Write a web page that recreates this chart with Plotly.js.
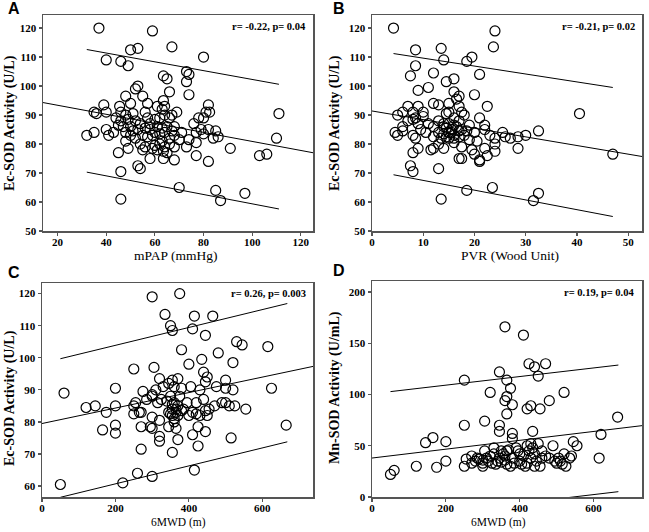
<!DOCTYPE html>
<html>
<head>
<meta charset="utf-8">
<script src="https://cdn.plot.ly/plotly-3.0.1.min.js"></script>
<style>
  body { margin: 0; background: #fff; }
  #chart { width: 649px; height: 532px; }
</style>
</head>
<body>
<div id="chart"></div>
<script>
// Panel A: mPAP vs Ec-SOD
var aX = [37,59,50,53,67,40,46,49,80,73,74,73,63.5,65,66,74,52,53,48,55,50,57,63.5,64,39,45.5,61,
  35,36,40,46,51,56,63,67,69,81,82,82.5,
  44,46,48,49,52,57,58,60,62,64,66,76,78,80,
  45,47,50,53,54,56,58,60,61,63,65,67,68,71,79,82,85,
  32,35,40,41,43,48,50,51,55,57,59,62,63,64,66,68,70,74,77,80,84,86,
  48,52,54,56,60,62,64,66,68,73,77,
  55,59,61,63.5,65,49,45,
  58,63.5,68,77,82,
  91,103,106,110,111,
  53,54,46,70,46,85,87,97];
var aY = [120,119,112.5,113,113.5,109,108.5,107,110,105,104,101.5,103.5,102.5,98,97,99,100,96.5,96.5,94,94,95,93,93.5,93,93,
  91,90.5,91,91,90.5,91,92,90,91,91,93.5,91,
  89,88,90,88.5,88,89,87,88.5,89,90,89,87,89,89,
  86.5,86,86,85,87,85.5,85,84,86,85.5,86,84.5,86,84,85,85,84.5,
  83,84,85,83,84,84,83,84.5,83,82.5,83,83.5,81,84,82,83,81.5,81.5,84,83.5,82,82.5,
  81,82,80,79,79.5,80,79,80,79,79,80.5,
  78,78.5,78,77.5,77,78.5,77,
  75,75,74.5,76,74,
  78.5,76,76.5,82,90.5,
  72.5,71.5,70.5,65,61,64,60.5,63];

// Panel B: PVR vs Ec-SOD
var bX = [4.2,24,8.5,13.5,23.7,14,18.5,19.5,8.5,7.5,12,14.5,16,21,11,9,16,17,16.5,20,
  5,6,7,8,9,10,12,13,15,17,17.5,22.5,
  4.5,5,6,6,7,8,8.5,9,10,11,12,13,14,14.5,15,16,17,18,19,21,22,
  8,8.5,9.5,10.5,12,13,14,14.5,15,15.5,16,16.5,17,17.5,18,18.5,20,20.5,22,23,24,25.5,26,27,28.5,30,32.5,
  9,11.5,12,13,14,16,17.5,19,19.5,20,21,21,22,22.5,24,24,28.5,17,17.5,
  8,7.5,8,13,40.5,47,13.5,18.5,23.5,31.5,32.5,
  14,15,15.5,16,14.5,15,16,17,13.5];
var bY = [120,119,112.5,113,113.5,109,108.5,110,107,103.5,104.5,101.5,102.5,104,99.5,98.5,98,96.5,95.5,97,
  90,91,93,91,93,91,94,93.5,94,93,91,93,
  84,83,86,84.5,88,88.5,89,87,89.5,87,86,88,87,90.5,91,89,88,90,86.5,89,86.5,
  83,82,85,84,82.5,84,83.5,85.5,82,84,83,86,84.5,85,83,84.5,84,81,85,83,82,84,82.5,82,82.5,83,84.5,
  78.5,78,78.5,80,78.5,80.5,79,81.5,78,76.5,74,74.5,78.5,76,77.5,80,78.5,75,75,
  77,72.5,70.5,71.5,90.5,76.5,61,64,65,60.5,63,
  86,87,85,86.5,82.5,84,82,82.5,82];

// Panel C: 6MWD vs Ec-SOD
var cX = [300,375,335,415,465,350,355,410,445,380,435,480,530,545,615,520,400,250,305,
  320,355,370,440,450,500,445,200,275,300,310,330,345,360,380,405,430,475,500,520,625,60,
  120,145,175,200,250,255,265,285,300,315,325,340,350,355,365,375,385,395,410,420,440,455,470,490,500,510,525,555,
  250,270,300,320,345,355,360,370,380,400,420,430,445,450,
  165,200,200,270,295,300,345,365,410,425,445,320,320,370,515,270,355,425,260,300,220,50,415,665,
  355,360,365,350,370,360];
var cY = [119,120,113.5,113,113,110,108.5,109,107,102.5,99.5,101.5,105,104,103.5,98.5,98,96.5,97,
  93.5,93,93.5,95.5,94,93,92.5,90.5,89.5,88.5,90,91,92,91,90.5,91,90,91,90.5,90,90.5,89,
  84.5,85,83,85,85,86,83,87,88,86,87,86.5,88,85.5,84,88,84,86,83,86,87,84,85,86,86,85,85,84,
  82.5,83,81.5,80.5,83,82,81,82,83.5,82,82.5,82,83.5,82,
  77.5,79,76.5,78.5,78.5,78,78.5,78,76,78.5,77,75.5,74,74.5,75,71.5,70.5,72.5,64,63,61,60.5,65,79,
  84,86,83,82.5,85,80];

// Panel D: 6MWD vs Mn-SOD
var dX = [360,410,425,440,470,450,345,365,250,375,365,360,320,520,380,420,430,455,480,
  365,665,305,250,345,345,435,380,380,620,145,165,200,490,545,555,
  50,60,120,175,200,250,255,615,
  270,280,290,300,300,305,310,320,330,335,340,345,350,355,360,365,370,375,380,390,395,400,405,410,415,420,425,430,435,440,445,450,455,460,470,480,495,500,505,510,515,520,525,535,540,
  285,315,325,360,385,420,440,460,430,400,350,300,270,330,365];
var dY = [166,158,130,127,130,118,122,114,114,106,98,94,102,102,90,86,89,86,94,
  81,78,74,70,70,64,64,62,57,61,53,58,54,50,54,50,
  22,26,30,29,35,30,37,38,
  40,35,37,33,30,45,38,40,48,32,35,38,45,42,40,32,46,30,38,48,45,35,32,40,30,50,45,38,48,42,35,52,30,38,40,38,35,33,38,35,32,42,30,38,40,
  38,35,33,36,33,33,30,45,52,42,34,36,33,42,45];

// fit line and prediction band values
var fitAx = [14, 125],   fitAy = [94.3, 77.0];
var bandAx = [32, 111],  upAy = [112.6, 100.6], loAy = [70.3, 57.6];
var fitBx = [0, 52.7],   fitBy = [91.4, 75.7];
var bandBx = [4.2, 47],  upBy = [111.2, 99.5],  loBy = [69.4, 55.0];
var fitCx = [0, 738],    fitCy = [79.5, 97.3];
var bandCx = [50, 668],  upCy = [99.7, 116.9],  loCy = [56.5, 73.8];
var fitDx = [0, 731],    fitDy = [38.0, 69.6];
var bandDx = [50, 667],  upDy = [102.8, 128.7], loDy = [-21, 5.2];

var stats = ["r= -0.22, p= 0.04", "r= -0.21, p= 0.02", "r= 0.26, p= 0.003", "r= 0.19, p= 0.04"];
var letters = ["A", "B", "C", "D"];
var xTitles = ["mPAP (mmHg)", "PVR (Wood Unit)", "6MWD (m)", "6MWD (m)"];
var yTitles = ["Ec-SOD Activity (U/L)", "Ec-SOD Activity (U/L)", "Ec-SOD Activity (U/L)", "Mn-SOD Activity (U/mL)"];

var W = 649, H = 532;
function px(x) { return x / W; }
function py(y) { return 1 - y / H; }

var serif = "Liberation Serif, Times New Roman, serif";

function pts(x, y, n) {
  return {x: x, y: y, xaxis: "x" + n, yaxis: "y" + n, mode: "markers", type: "scatter",
    marker: {symbol: "circle-open", size: 10, color: "#000", line: {width: 1.2, color: "#000"}},
    hoverinfo: "x+y", showlegend: false};
}
function ln(x, y, n) {
  return {x: x, y: y, xaxis: "x" + n, yaxis: "y" + n, mode: "lines", type: "scatter",
    line: {color: "#000", width: 1}, hoverinfo: "skip", showlegend: false};
}

var traces = [
  pts(aX, aY, ""), ln(fitAx, fitAy, ""), ln(bandAx, upAy, ""), ln(bandAx, loAy, ""),
  pts(bX, bY, 2), ln(fitBx, fitBy, 2), ln(bandBx, upBy, 2), ln(bandBx, loBy, 2),
  pts(cX, cY, 3), ln(fitCx, fitCy, 3), ln(bandCx, upCy, 3), ln(bandCx, loCy, 3),
  pts(dX, dY, 4), ln(fitDx, fitDy, 4), ln(bandDx, upDy, 4), ln(bandDx, loDy, 4)
];

function ax(domain, range, dtick, anchor, isX) {
  return {domain: domain, range: range, dtick: dtick, tick0: 0, anchor: anchor,
    showgrid: false, zeroline: false, showline: true, mirror: true,
    linecolor: "#555", linewidth: 1.5, ticks: "outside", ticklen: 3, tickwidth: 1.2, tickcolor: "#555",
    ticklabelstandoff: isX ? -3 : 0,
    tickfont: {family: serif, size: 11, color: "#000", weight: "bold"}};
}

// plot area pixel boxes [left, right, top, bottom]
var boxes = [[43, 313, 15, 231], [372, 642, 15, 231], [42, 313, 283, 497], [372, 642, 281, 497]];
function xd(b) { return [px(b[0]), px(b[1])]; }
function yd(b) { return [py(b[3]), py(b[2])]; }

var annotations = [];
var letterPos = [[14, 9], [339, 9], [14, 272], [339, 270]];
var statPos = [[308, 27], [637, 27], [308, 293], [636, 292]];
var xtPos = [[175, 255], [510, 255], [178, 522], [498, 522]];
var xtSize = [13.5, 13.5, 11.5, 11.5];
var ytPos = [[10, 123], [335, 123], [10, 398], [335, 388]];
for (var i = 0; i < 4; i++) {
  annotations.push({text: letters[i], xref: "paper", yref: "paper", x: px(letterPos[i][0]), y: py(letterPos[i][1]),
    showarrow: false, xanchor: "center", yanchor: "middle",
    font: {family: "Liberation Sans, Arial, sans-serif", size: 16, color: "#000", weight: "bold"}});
  annotations.push({text: stats[i], xref: "paper", yref: "paper", x: px(statPos[i][0]), y: py(statPos[i][1]),
    showarrow: false, xanchor: "right", yanchor: "middle",
    font: {family: serif, size: 10.5, color: "#000", weight: "bold"}});
  annotations.push({text: xTitles[i], xref: "paper", yref: "paper", x: px(xtPos[i][0]), y: py(xtPos[i][1]),
    showarrow: false, xanchor: "center", yanchor: "middle",
    font: {family: serif, size: xtSize[i], color: "#000"}});
  annotations.push({text: yTitles[i], xref: "paper", yref: "paper", x: px(ytPos[i][0]), y: py(ytPos[i][1]),
    showarrow: false, xanchor: "center", yanchor: "middle", textangle: -90,
    font: {family: serif, size: 14, color: "#000", weight: "bold"}});
}

var layout = {
  width: W, height: H,
  margin: {l: 0, r: 0, t: 0, b: 0},
  paper_bgcolor: "#fff", plot_bgcolor: "#fff",
  showlegend: false,
  xaxis:  ax(xd(boxes[0]), [14, 125], 20, "y", true),
  yaxis:  ax(yd(boxes[0]), [50, 124.5], 10, "x", false),
  xaxis2: ax(xd(boxes[1]), [0, 52.7], 10, "y2", true),
  yaxis2: ax(yd(boxes[1]), [50, 124.5], 10, "x2", false),
  xaxis3: ax(xd(boxes[2]), [0, 738], 200, "y3", true),
  yaxis3: ax(yd(boxes[2]), [56.6, 123.3], 10, "x3", false),
  xaxis4: ax(xd(boxes[3]), [0, 731], 200, "y4", true),
  yaxis4: ax(yd(boxes[3]), [0, 210.7], 50, "x4", false),
  annotations: annotations
};

Plotly.newPlot("chart", traces, layout, {displayModeBar: false, staticPlot: true});
</script>
</body>
</html>
